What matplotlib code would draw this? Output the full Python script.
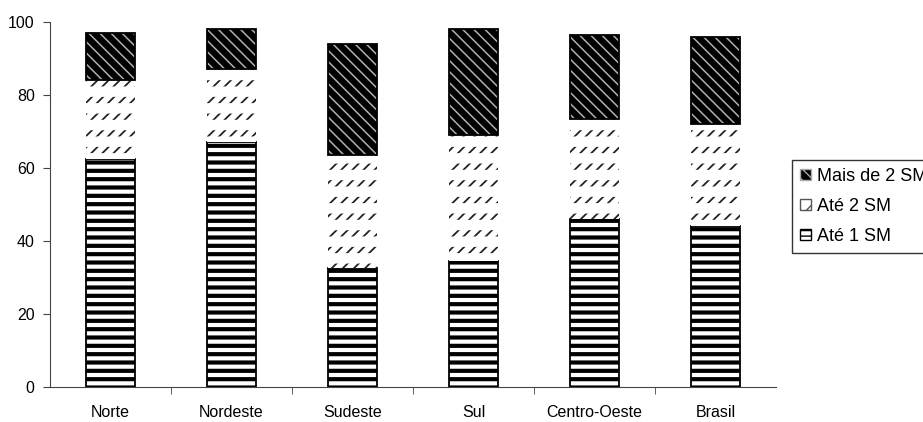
import numpy as np
import matplotlib.pyplot as plt
from matplotlib.patches import Patch

plt.rcParams['font.family'] = ['Liberation Sans', 'DejaVu Sans']

regioes = ['Norte', 'Nordeste', 'Sudeste', 'Sul', 'Centro-Oeste', 'Brasil']
ate_1sm = [62.5, 67.0, 32.5, 34.5, 46.0, 44.0]
ate_2sm = [21.5, 20.0, 31.0, 34.5, 27.5, 28.0]
mais_2sm = [13.0, 11.0, 30.5, 29.0, 23.0, 24.0]

x = np.arange(len(regioes))
larg = 0.4
base2 = np.array(ate_1sm)
base3 = base2 + np.array(ate_2sm)


def espessura(barras, lw):
    # largura das linhas da hachura, por barra
    for b in barras:
        if hasattr(b, 'set_hatch_linewidth'):
            b.set_hatch_linewidth(lw)


fig = plt.figure(figsize=(9.23, 4.22), dpi=100)
ax = fig.add_axes([50 / 923, 35 / 422, 726 / 923, 365 / 422])

# Até 1 SM: listras horizontais grossas
b1 = ax.bar(x, ate_1sm, larg, color='white', edgecolor='black', hatch='--', linewidth=0)
espessura(b1, 3.0)
ax.bar(x, ate_1sm, larg, color='none', edgecolor='black', linewidth=1.3)

# Até 2 SM: tracinhos diagonais em fileiras, sem contorno
b2 = ax.bar(x, ate_2sm, larg, bottom=base2, color='white', edgecolor='#222222',
            hatch='///', linewidth=0)
espessura(b2, 1.3)
b2w = ax.bar(x, ate_2sm, larg, bottom=base2, color='none', edgecolor='white',
             hatch='-', linewidth=0)
espessura(b2w, 7.5)

# Mais de 2 SM: fundo preto com listras claras
b3 = ax.bar(x, mais_2sm, larg, bottom=base3, color='black', edgecolor='#b0b0b0',
            hatch='\\\\\\', linewidth=0)
espessura(b3, 1.1)
ax.bar(x, mais_2sm, larg, bottom=base3, color='none', edgecolor='black', linewidth=1.3)

ax.set_xlim(-0.5, len(regioes) - 0.5)
ax.set_ylim(0, 100)
ax.set_yticks(range(0, 101, 20))
ax.set_xticks(x)
ax.set_xticklabels(regioes)
ax.set_xticks(np.arange(0.5, len(regioes) - 0.5, 1), minor=True)
ax.tick_params(axis='x', which='major', length=0, labelsize=11.5, pad=13)
ax.tick_params(axis='x', which='minor', length=5, direction='out', color='#444444')
ax.tick_params(axis='y', length=5, direction='out', labelsize=11.5, pad=6, color='#444444')
ax.spines['top'].set_visible(False)
ax.spines['right'].set_visible(False)
for s in ['left', 'bottom']:
    ax.spines[s].set_color('#444444')

handles = [
    Patch(facecolor='black', edgecolor='#aaaaaa', hatch='\\\\\\', label='Mais de 2 SM'),
    Patch(facecolor='white', edgecolor='#555555', hatch='//', label='Até 2 SM'),
    Patch(facecolor='white', edgecolor='black', hatch='---', label='Até 1 SM'),
]
leg = fig.legend(handles=handles, loc='upper left', bbox_to_anchor=(792 / 923, 1 - 160 / 422),
                 frameon=True, fancybox=False, edgecolor='black', fontsize=13,
                 handlelength=0.6, handleheight=0.6, handletextpad=0.35,
                 borderpad=0.45, labelspacing=0.72, borderaxespad=0)
leg.get_frame().set_linewidth(1.0)

fig.savefig('out.png', dpi=100)
